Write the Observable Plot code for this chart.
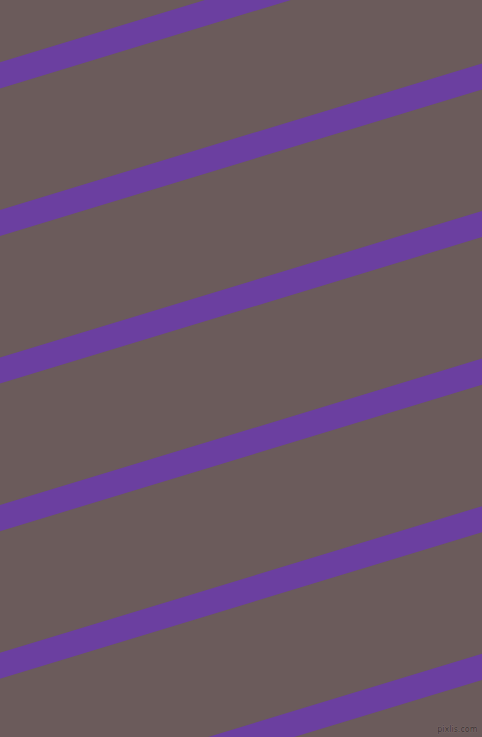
<!DOCTYPE html>
<html>
<head>
<meta charset="utf-8">
<script src="https://cdn.jsdelivr.net/npm/d3@7"></script>
<script src="https://cdn.jsdelivr.net/npm/@observablehq/plot@0.6"></script>
<style>
  html, body { margin: 0; padding: 0; background: #6b5b5b; overflow: hidden; }
  #chart svg { display: block; }
</style>
</head>
<body>
<div id="chart"></div>
<script>
// Stripe centre heights (px from top) at the left edge (x = 0) and right edge (x = 482)
const stripeLeftY  = [-72.9, 74.7, 222.3, 369.9, 517.5, 665.1, 812.7];
const stripeRightY = [-219.4, -71.8, 75.8, 223.4, 371.0, 518.6, 666.2];
const watermark = ["pixlis.com"];

const W = 482, H = 737;
const stripes = stripeLeftY.map((y, i) => ({x1: 0, y1: y, x2: W, y2: stripeRightY[i]}));

const chart = Plot.plot({
  width: W,
  height: H,
  margin: 0,
  x: {domain: [0, W], range: [0, W], axis: null},
  y: {domain: [0, H], range: [0, H], axis: null},
  style: {background: "#6b5b5b", overflow: "hidden"},
  marks: [
    Plot.link(stripes, {
      x1: "x1", y1: "y1", x2: "x2", y2: "y2",
      stroke: "#6b3fa0",
      strokeWidth: 25,
      strokeLinecap: "square",
      clip: true
    }),
    Plot.text(watermark, {
      x: () => 477, y: () => 729, text: d => d,
      textAnchor: "end",
      fontSize: 8,
      fontFamily: "DejaVu Sans",
      fill: "#3a3030",
      stroke: "#8a7a7a",
      strokeWidth: 0.6,
      paintOrder: "stroke"
    })
  ]
});
document.getElementById("chart").appendChild(chart);
</script>
</body>
</html>
